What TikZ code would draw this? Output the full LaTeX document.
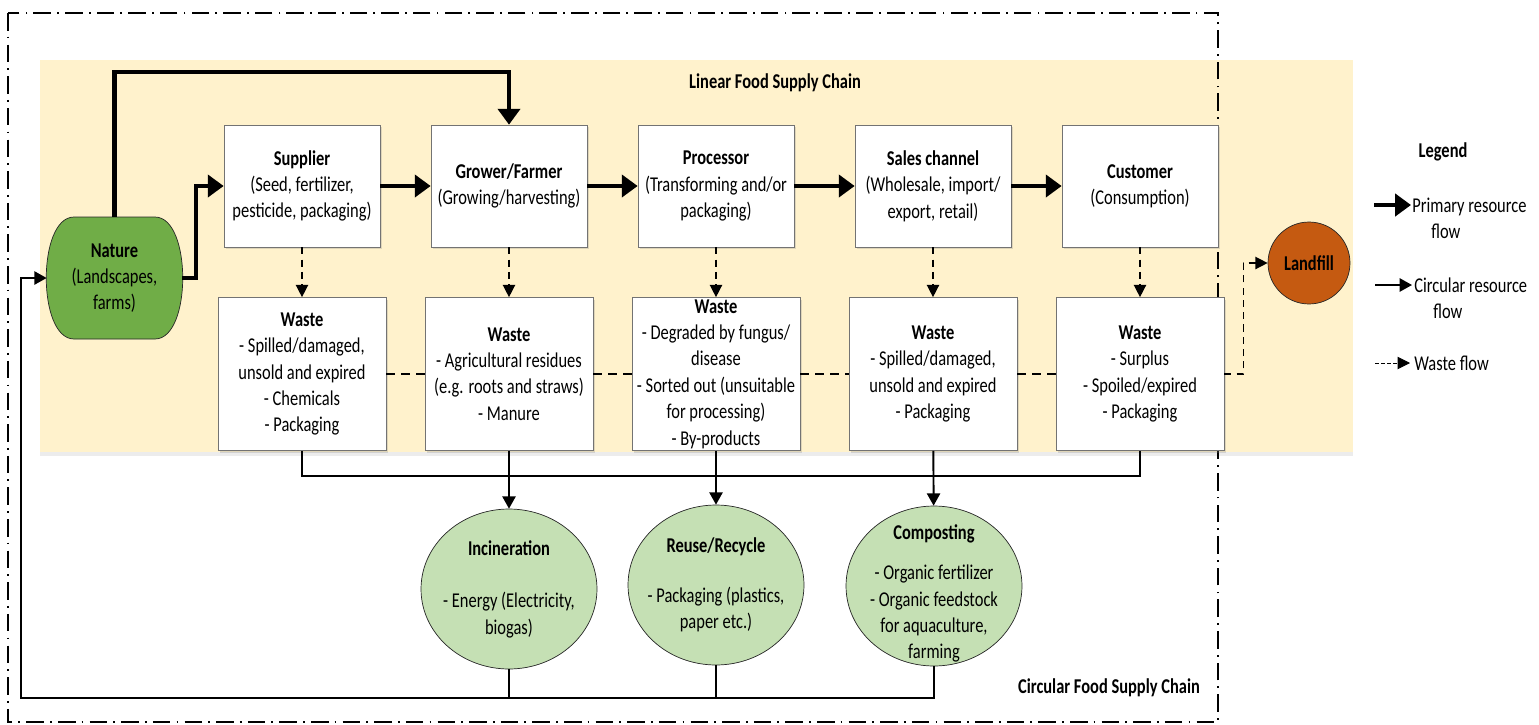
\documentclass[tikz,border=0pt]{standalone}
\usepackage{fontspec}
\setmainfont{Carlito}[FakeStretch=0.78]
\usetikzlibrary{arrows.meta,shadows,shapes.geometric}

\definecolor{linbg}{HTML}{FFF2CC}
\definecolor{naturegreen}{HTML}{70AD47}
\definecolor{circgreen}{HTML}{C5E0B4}
\definecolor{landfillbrown}{HTML}{C55A11}

\tikzset{
  every node/.style={font=\fontsize{12}{15}\selectfont},
  stage/.style={draw=black!55, fill=white, align=center, inner sep=0pt,
    minimum width=3.12cm, minimum height=2.44cm,
    drop shadow={opacity=0.25, shadow xshift=1.2pt, shadow yshift=-1.2pt}},
  wastebox/.style={stage, minimum width=3.36cm, minimum height=3.06cm},
  outlet/.style={ellipse, draw=black!85, fill=circgreen, inner sep=0pt,
    minimum width=3.52cm, minimum height=3.2cm},
  primary/.style={line width=2.3pt, -{Triangle[length=9pt,width=12.5pt]}},
  circflow/.style={line width=1.1pt, -{Triangle[length=7pt,width=7.5pt]}},
  circline/.style={line width=1.1pt},
  wasteflow/.style={line width=0.8pt, dash pattern=on 4pt off 3pt,
    -{Triangle[length=7pt,width=7pt]}},
  wasteline/.style={line width=1pt, dash pattern=on 5pt off 3.5pt}
}

\begin{document}
\begin{tikzpicture}[x=0.02cm, y=-0.02cm]
  \useasboundingbox (0,0) rectangle (1539,724);

  % linear chain background
  \fill[linbg, drop shadow={opacity=0.15, shadow xshift=0pt, shadow yshift=-2pt}]
    (40,60) rectangle (1353,452);
  \node[font=\fontsize{12}{15}\selectfont\bfseries] (lineartitle) at (775,83) {Linear Food Supply Chain};

  % outer frame of the circular chain
  \draw[line width=1.1pt, dash pattern=on 10pt off 3.5pt on 1pt off 3.5pt]
    (8,13) rectangle (1218,722);
  \node[font=\fontsize{12}{15}\selectfont\bfseries] (circtitle) at (1109,688) {Circular Food Supply Chain};

  % nature
  \path[draw=black!85, fill=naturegreen] (74,217) -- (155,217)
    .. controls (192,217) and (192,339) .. (155,339) -- (74,339)
    .. controls (37,339) and (37,217) .. (74,217) -- cycle;
  \node[align=center, inner sep=0pt, minimum width=2.7cm, minimum height=2.44cm]
    (nature) at (114.5,278) {\textbf{Nature}\\(Landscapes,\\farms)};

  % stages
  \node[stage] (supplier) at (302,186) {\textbf{Supplier}\\(Seed, fertilizer,\\pesticide, packaging)};
  \node[stage] (grower) at (509,186) {\textbf{Grower/Farmer}\\(Growing/harvesting)};
  \node[stage] (processor) at (716,186) {\textbf{Processor}\\(Transforming and/or\\packaging)};
  \node[stage] (sales) at (933,186) {\textbf{Sales channel}\\(Wholesale, import/\\export, retail)};
  \node[stage] (customer) at (1140,186) {\textbf{Customer}\\(Consumption)};

  % waste
  \node[wastebox] (w1) at (302,374) {\textbf{Waste}\\- Spilled/damaged,\\unsold and expired\\- Chemicals\\- Packaging};
  \node[wastebox] (w2) at (509,374) {\textbf{Waste}\\- Agricultural residues\\(e.g. roots and straws)\\- Manure};
  \node[wastebox] (w3) at (716,374) {\textbf{Waste}\\- Degraded by fungus/\\disease\\- Sorted out (unsuitable\\for processing)\\- By-products};
  \node[wastebox] (w4) at (933,374) {\textbf{Waste}\\- Spilled/damaged,\\unsold and expired\\- Packaging};
  \node[wastebox] (w5) at (1140,374) {\textbf{Waste}\\- Surplus\\- Spoiled/expired\\- Packaging};

  % landfill
  \node[circle, draw=black!85, fill=landfillbrown, minimum size=1.64cm, inner sep=0pt,
    font=\fontsize{12}{15}\selectfont\bfseries] (landfill) at (1309,263) {Landfill};

  % outlets
  \node[outlet, label={[align=center]center:{\textbf{Incineration}\\[15pt]- Energy (Electricity,\\biogas)}}]
    (incin) at (509,589) {};
  \node[outlet, label={[align=center]center:{\textbf{Reuse/Recycle}\\[13pt]- Packaging (plastics,\\paper etc.)}}]
    (reuse) at (716,585) {};
  \node[outlet, label={[align=center, yshift=-0.15cm]center:{\textbf{Composting}\\[8pt]- Organic fertilizer\\- Organic feedstock\\for aquaculture,\\farming}}]
    (compost) at (934,586) {};

  % primary resource flow
  \coordinate (topbend) at (509,72);
  \draw[primary] (nature.north) |- (topbend) -- (grower.north);
  \draw[primary] (nature.east) -- ++(14,0) |- (supplier.west);
  \draw[primary] (supplier) -- (grower);
  \draw[primary] (grower) -- (processor);
  \draw[primary] (processor) -- (sales);
  \draw[primary] (sales) -- (customer);

  % waste flow
  \foreach \s/\w in {supplier/w1, grower/w2, processor/w3, sales/w4, customer/w5}
    \draw[wasteflow] (\s) -- (\w);
  \draw[wasteline] (w1) -- (w2) -- (w3) -- (w4) -- (w5);
  \draw[wasteflow] (w5.east) -- ++(19,0) |- (landfill.west);

  % circular resource flow
  \draw[circline] (w1.south) -- ++(0,25) -| (w5.south);
  \draw[circflow] (w2) -- (incin);
  \draw[circflow] (w3) -- (reuse);
  \draw[circflow] (w4) -- (compost);
  \coordinate (loopcorner) at (21,698);
  \draw[circflow] (compost.south) |- (loopcorner) |- (nature.west);
  \draw[circline] (incin.south) -- (incin.south |- loopcorner);
  \draw[circline] (reuse.south) -- (reuse.south |- loopcorner);

  % legend
  \node[font=\fontsize{12}{15}\selectfont\bfseries] (legendtitle) at (1443,152) {Legend};
  \coordinate (lgprimA) at (1374,205);
  \coordinate (lgprimB) at (1411,205);
  \draw[primary] (lgprimA) -- (lgprimB);
  \node[anchor=west, align=left, inner sep=0pt] (lgprimtext) at (1412,218) {Primary resource\\\hspace*{0.9em}flow};
  \coordinate (lgcircA) at (1375,285);
  \coordinate (lgcircB) at (1412,285);
  \draw[circflow] (lgcircA) -- (lgcircB);
  \node[anchor=west, align=left, inner sep=0pt] (lgcirctext) at (1414,298) {Circular resource\\\hspace*{0.9em}flow};
  \coordinate (lgwasteA) at (1375,363);
  \coordinate (lgwasteB) at (1410,363);
  \draw[wasteflow, line width=0.5pt, dash pattern=on 2pt off 1.5pt] (lgwasteA) -- (lgwasteB);
  \node[anchor=west, inner sep=0pt] (lgwastetext) at (1414,363) {Waste flow};
\end{tikzpicture}
\end{document}
